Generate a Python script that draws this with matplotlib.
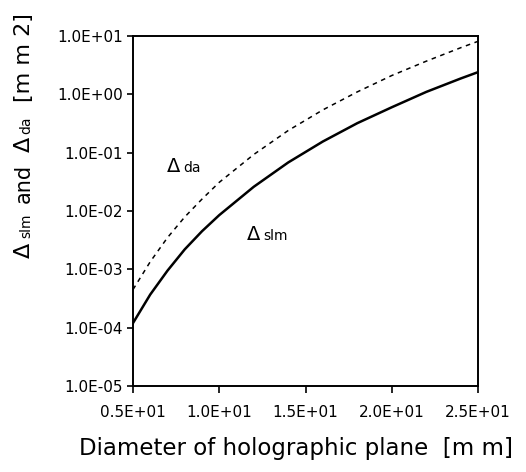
import matplotlib
matplotlib.use("Agg")
import matplotlib.pyplot as plt

# diameter of holographic plane [mm]
diameter = [5, 6, 7, 8, 9, 10, 12, 14, 16, 18, 20, 22, 24, 25]
# (log scale)
delta_slm = [1.2e-4, 3.7e-4, 9.5e-4, 2.2e-3, 4.5e-3, 8.5e-3, 2.6e-2,
             6.8e-2, 0.155, 0.32, 0.60, 1.1, 1.87, 2.4]
delta_da = [4.5e-4, 1.35e-3, 3.5e-3, 7.9e-3, 1.6e-2, 3.1e-2, 9.3e-2,
            0.24, 0.54, 1.1, 2.1, 3.7, 6.3, 8.1]

x_ticks = [5, 10, 15, 20, 25]
x_ticklabels = ["0.5E+01", "1.0E+01", "1.5E+01", "2.0E+01", "2.5E+01"]
y_ticks = [1e-5, 1e-4, 1e-3, 1e-2, 1e-1, 1e0, 1e1]
y_ticklabels = ["1.0E-05", "1.0E-04", "1.0E-03", "1.0E-02", "1.0E-01", "1.0E+00", "1.0E+01"]

plt.rcParams['font.family'] = ['DejaVu Sans']

fig = plt.figure(figsize=(5.26, 4.72), dpi=100)
W, H = 526, 472
ax = fig.add_axes([133 / W, 1 - 386 / H, 345 / W, 350 / H])

ax.plot(diameter, delta_slm, color='black', lw=1.8)
ax.plot(diameter, delta_da, color='black', lw=1.1, linestyle=(0, (3, 3)))

ax.set_yscale('log')
ax.set_xlim(5, 25)
ax.set_ylim(1e-5, 1e1)
ax.set_xticks(x_ticks)
ax.set_xticklabels(x_ticklabels)
ax.set_yticks(y_ticks)
ax.set_yticklabels(y_ticklabels)
ax.minorticks_off()
ax.tick_params(axis='both', labelsize=11, width=1.2, direction='out')
ax.tick_params(axis='x', length=5, pad=9)
ax.tick_params(axis='y', length=4, pad=3)
for sp in ax.spines.values():
    sp.set_linewidth(1.4)


def chain_text(pieces, x0, y0, rotation):
    # place text pieces one after another, each starting where the last ended
    fig.canvas.draw()
    r = fig.canvas.get_renderer()
    x, y = x0, y0
    for s, size, gap in pieces:
        t = fig.text(x / W, 1 - y / H, s, fontsize=size, rotation=rotation,
                     rotation_mode='anchor', ha='left', va='baseline')
        bb = t.get_window_extent(r)
        if rotation == 90:
            y = y - bb.height - gap
        else:
            x = x + bb.width + gap


# curve labels inside the plot
chain_text([("Δ", 14, 3), ("da", 10, 0)], 167, 172, 0)
chain_text([("Δ", 14, 3), ("slm", 10, 0)], 247, 240, 0)

# y axis label
chain_text([("Δ", 16, 5), ("slm", 10, 10), ("and", 15, 12), ("Δ", 16, 3),
            ("da", 10, 14), ("[m m 2]", 16, 0)], 30, 258, 90)

fig.text(296 / W, 1 - 455 / H, "Diameter of holographic plane  [m m]",
         fontsize=16.5, ha='center', va='baseline')

fig.savefig("out.png", dpi=100)
